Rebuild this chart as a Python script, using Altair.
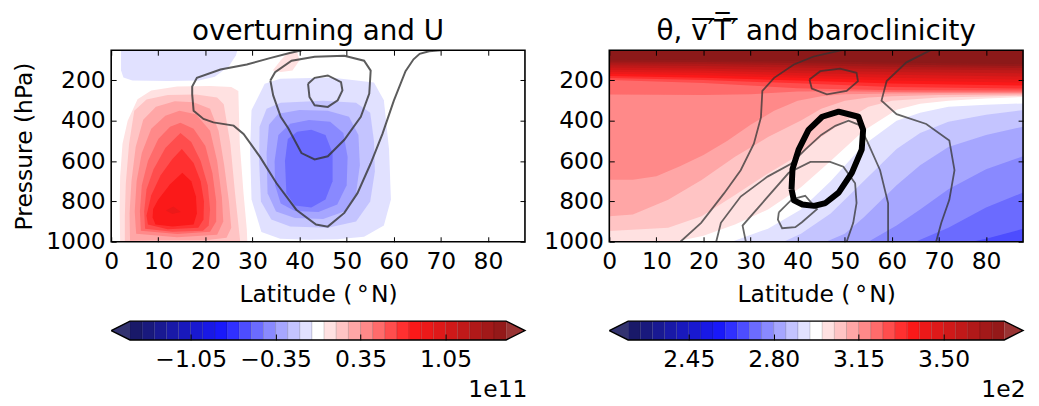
import altair as alt
import pandas as pd

# ---------------------------------------------------------------- data
LAT_MAX = 87.86
P_TOP = 50
P_BOT = 1000
LAT_TICKS = [0, 10, 20, 30, 40, 50, 60, 70, 80]
P_TICKS = [200, 400, 600, 800, 1000]

PSI_LEVELS = [-1.55, -1.45, -1.35, -1.25, -1.15, -1.05, -0.95, -0.85, -0.75, -0.65,
              -0.55, -0.45, -0.35, -0.25, -0.15, -0.05, 0.05, 0.15, 0.25, 0.35,
              0.45, 0.55, 0.65, 0.75, 0.85, 0.95, 1.05, 1.15, 1.25, 1.35, 1.45, 1.55]
PSI_TICKS = [-1.05, -0.35, 0.35, 1.05]
THETA_LEVELS = [220, 225, 230, 235, 240, 245, 250, 255, 260, 265, 270, 275, 280, 285,
                290, 295, 300, 305, 310, 315, 320, 325, 330, 335, 340, 345, 350, 355,
                360, 365, 370, 375]
THETA_TICKS = [245, 280, 315, 350]

# overturning (1e11): outlines of regions where psi > level (positive cell)
PSI_POS = [
    (0.05, [1.9, 1.8, 1.9, 2.4, 3.5, 5.6, 8.5, 14, 21, 25.5, 27.0, 27.3, 28.1, 28.8, 28.9],
           [1000, 840, 677, 514, 400, 293, 250, 230, 228, 232, 252, 514, 759, 939, 1000]),
    (0.15, [2.9, 2.9, 3.1, 3.8, 4.9, 7.5, 12, 18, 22.5, 23.9, 25.3, 26.3, 27.4],
           [1000, 870, 710, 514, 350, 295, 272, 270, 285, 318, 514, 759, 1000]),
    (0.25, [4.0, 3.9, 4.3, 5.2, 6.8, 9.5, 13.5, 17.5, 21, 22.8, 24, 25, 25.5, 24.5, 20, 10],
           [995, 860, 700, 530, 395, 330, 303, 308, 340, 450, 620, 800, 930, 980, 993, 993]),
    (0.35, [5.3, 5.0, 5.4, 6.5, 8.5, 11.5, 14.5, 18, 21, 22.5, 23.5, 23.8, 22.5, 14],
           [960, 850, 700, 560, 440, 375, 350, 368, 450, 600, 780, 900, 965, 978]),
    (0.45, [6.3, 6.1, 6.5, 7.8, 10, 12.5, 14.7, 17.5, 20, 21.5, 22.3, 22.3, 21, 14],
           [945, 850, 720, 600, 490, 430, 410, 440, 525, 660, 800, 900, 950, 962]),
    (0.55, [7.2, 7.0, 7.5, 9, 11.5, 14.7, 17, 19, 20.5, 21, 20.7, 19.5, 13],
           [935, 850, 740, 640, 535, 460, 505, 600, 720, 840, 920, 945, 950]),
    (0.65, [7.8, 7.5, 8.5, 10.5, 13, 15, 17.5, 19, 19.7, 19.6, 18.5, 12],
           [915, 870, 770, 670, 590, 540, 610, 700, 800, 890, 930, 938]),
    (0.75, [8.8, 8.9, 10, 12.5, 15.1, 17, 18, 18.2, 17.5, 13, 9.4],
           [880, 838, 790, 715, 658, 700, 775, 860, 915, 925, 915]),
    (0.85, [11.6, 13.2, 14.8, 13], [845, 825, 852, 862]),
    (0.05, [34.3, 36, 37.5, 39.5, 40, 38.5, 36], [150, 100, 62, 60, 100, 150, 158]),
]
# overturning: outlines of regions where psi < level (negative cell)
PSI_NEG = [
    (-0.05, [32.6, 29.8, 29.5, 29.8, 31.9, 35.9, 42, 48, 53.7, 57.9, 59.4, 59, 57.9, 55.8, 46.6, 35.9],
            [216, 347, 543, 790, 952, 985, 990, 988, 975, 920, 790, 543, 298, 210, 185, 192]),
    (-0.15, [33, 31.5, 31.4, 31.8, 34, 38, 46, 52, 55, 56, 55.8, 55, 52, 45, 36],
            [340, 430, 600, 800, 890, 925, 930, 900, 800, 650, 500, 360, 310, 300, 310]),
    (-0.25, [35.5, 33.5, 33, 33.2, 35, 39, 45, 49.5, 52, 52.8, 52.5, 50.5, 46, 40],
            [365, 420, 560, 760, 850, 882, 887, 850, 760, 620, 470, 380, 350, 347]),
    (-0.35, [38, 35.5, 34.7, 34.8, 36, 39, 44, 48, 50, 50.2, 49.3, 46.5, 42],
            [415, 470, 600, 720, 810, 848, 852, 815, 720, 580, 460, 405, 396]),
    (-0.45, [39.5, 37.5, 36.9, 37.2, 39, 42.5, 45.5, 47, 47, 45.5, 42.5],
            [455, 490, 600, 760, 820, 830, 790, 700, 560, 470, 445]),
    (-0.05, [2.1, 2.1, 2.6, 4.5, 12, 18.6, 22, 25, 26.5, 26.8],
            [50, 150, 185, 200, 203, 200, 182, 130, 75, 50]),
]
# zonal wind U contours (lat, p, closed)
U_CONTOURS = [
    ([40.5, 37.9, 33.7, 28.8, 23.2, 18.2, 17.2, 17.2, 17.5, 19.6, 21.7, 26, 28.1, 31.6, 35.1,
      39.3, 43.5, 46, 49.5, 52.3, 55.1, 57.6, 60, 62.5, 64.2, 65.5, 67.5, 70],
     [50, 64, 89, 121, 146, 187, 230, 269, 350, 391, 408, 424, 465, 579, 710,
      841, 915, 925, 857, 759, 612, 465, 301, 154, 95, 68, 55, 50], False),
    ([33.8, 34.4, 36, 37.6, 40.4, 43.2, 46, 49.5, 53, 54.8, 55.1, 53.7, 49.5, 43.2, 38.3, 34.8],
     [200, 274, 380, 437, 560, 592, 576, 494, 380, 265, 151, 102, 77, 82, 102, 159], True),
    ([41.8, 43.2, 46, 48.8, 49.1, 48.1, 46, 43.2, 42.1],
     [216, 187, 175, 208, 249, 298, 331, 323, 282], True),
]

# potential temperature (K): isentropes (lat, p); region above each is warmer
THETA_ISENTROPES = [
    (270, [77, 80, 87.86], [1000, 985, 936]),
    (275, [65, 72, 80, 87.86], [1000, 930, 830, 756]),
    (280, [55, 61, 66, 72, 80, 87.86], [1000, 920, 840, 740, 640, 576]),
    (285, [46, 50, 54, 61, 66, 72, 80, 87.86], [1000, 960, 880, 720, 620, 530, 470, 429]),
    (290, [37, 40.7, 47, 54, 61, 66, 72, 80, 87.86], [1000, 960, 860, 700, 540, 460, 405, 370, 347]),
    (295, [26, 33.7, 40.7, 47, 54, 61, 66, 72, 80, 87.86], [1000, 935, 840, 700, 520, 400, 360, 330, 320, 314]),
    (300, [14, 20, 26.7, 33.7, 40.7, 47, 54, 61, 66, 72, 80, 87.86],
          [1000, 970, 915, 840, 730, 600, 450, 345, 315, 300, 290, 282]),
    (305, [0, 12.5, 19.6, 26.7, 33.7, 40.7, 45, 50, 55, 60, 70, 80, 87.86],
          [947, 930, 874, 768, 661, 563, 480, 400, 330, 300, 285, 279, 276]),
    (310, [0, 5, 12.5, 19.6, 26.7, 33.7, 40.7, 45, 50, 55, 60, 70, 87.86],
          [874, 865, 792, 694, 579, 481, 399, 340, 300, 285, 278, 272, 270]),
    (315, [0, 5, 10, 15, 20, 25, 30, 35, 40, 45, 50, 60, 70, 87.86],
          [693, 693, 675, 625, 570, 500, 420, 350, 300, 278, 268, 265, 264, 264]),
    (320, [0, 20, 30, 40, 50, 60, 70, 87.86], [269, 272, 268, 255, 253, 257, 258, 258]),
    (325, [0, 20, 40, 60, 87.86], [198, 212, 238, 248, 250]),
    (330, [0, 20, 40, 60, 87.86], [188, 198, 214, 232, 240]),
    (335, [0, 20, 40, 60, 87.86], [178, 186, 200, 215, 225]),
    (340, [0, 20, 40, 60, 87.86], [167, 174, 187, 200, 210]),
    (345, [0, 20, 40, 60, 87.86], [157, 162, 175, 186, 195]),
    (350, [0, 20, 40, 60, 87.86], [147, 151, 163, 172, 180]),
    (355, [0, 20, 40, 60, 87.86], [136, 140, 150, 158, 165]),
    (360, [0, 20, 40, 60, 87.86], [125, 128, 136, 144, 150]),
    (365, [0, 20, 40, 60, 87.86], [115, 117, 124, 132, 138]),
    (370, [0, 20, 40, 60, 87.86], [106, 108, 113, 121, 128]),
    (375, [0, 20, 40, 60, 87.86], [97, 99, 103, 111, 118]),
]
THETA_SURFACE_BAND = 267.5
# eddy heat flux v'T' contours (lat, p, closed)
VT_CONTOURS = [
    ([15.1, 19.5, 24.4, 27.9, 30.7, 32.2, 32.5, 35, 39.2, 43.4, 47, 49.4],
     [1000, 906, 759, 645, 514, 383, 252, 187, 121, 81, 62, 50], False),
    ([22.7, 23.7, 27.9, 33.6, 38.5, 41.6, 45, 48, 50.8, 53, 54.7, 57.5, 59.2, 59.2],
     [1000, 906, 776, 677, 615, 543, 470, 425, 400, 420, 498, 645, 808, 1000], False),
    ([29, 28.3, 33.2, 38.1, 42.7, 46.9, 49.7, 52.2, 52.5, 51.8, 50.4],
     [1000, 920, 789, 658, 604, 604, 628, 710, 808, 906, 1000], False),
    ([36, 38.8, 41.6, 44.1, 40.9, 39.5, 36.7, 35.8],
     [854, 789, 772, 838, 903, 928, 933, 890], True),
    ([68.2, 63.1, 58.9, 57.8, 61, 67.3, 72.2, 73.3, 72.2, 70.5, 69.4],
     [50, 110, 203, 300, 367, 416, 498, 645, 792, 906, 1000], False),
    ([42.5, 44.8, 49, 52.5, 52.8, 50.4, 46.2, 43],
     [195, 154, 141, 162, 203, 252, 269, 240], True),
]
# baroclinicity contour (thick black)
BAROCLINIC_CONTOUR = ([38.7, 38.9, 40.2, 42.3, 45.2, 48.7, 52.9, 53.9, 53.6, 51.5, 48.7, 45.9, 43.5, 41, 39.2],
                      [740, 640, 543, 445, 380, 355, 380, 445, 543, 658, 756, 808, 822, 815, 795])

# ---------------------------------------------------------------- style
FONT = "DejaVu Sans"
FS_TICK = 23.6
FS_TITLE = 28
PW, PH = 417, 193


def seismic(t):
    stops = [(0.0, (0.0, 0.0, 0.3)), (0.25, (0.0, 0.0, 1.0)), (0.5, (1.0, 1.0, 1.0)),
             (0.75, (1.0, 0.0, 0.0)), (1.0, (0.5, 0.0, 0.0))]
    t = min(max(t, 0.0), 1.0)
    for (t0, c0), (t1, c1) in zip(stops[:-1], stops[1:]):
        if t <= t1:
            f = (t - t0) / (t1 - t0)
            return tuple(a + (b - a) * f for a, b in zip(c0, c1))
    return stops[-1][1]


def tint(rgb, alpha):
    return "#%02x%02x%02x" % tuple(int(round(255 * (alpha * c + 1 - alpha))) for c in rgb)


NB = 31
BANDS = [tint(seismic((k + 0.5) / NB), 0.9) for k in range(NB)]
UNDER = tint(seismic(0.0), 0.9)
OVER = tint(seismic(1.0), 0.9)
TRI_UNDER = tint(seismic(0.0), 0.8)
TRI_OVER = tint(seismic(1.0), 0.8)

XS = alt.Scale(domain=[0, LAT_MAX], nice=False, zero=False)
YS = alt.Scale(domain=[P_TOP, P_BOT], reverse=True, nice=False, zero=False)


def cscale(levels):
    return alt.Scale(type="threshold", domain=levels, range=[UNDER] + BANDS + [OVER])


def fill_layer(lats, ps, value, scale):
    df = pd.DataFrame({"lat": lats, "p": ps, "i": list(range(len(lats)))})
    df["v"] = value
    return alt.Chart(df).mark_line(filled=True, interpolate="linear-closed", clip=True).encode(
        x=alt.X("lat:Q", scale=XS, axis=None),
        y=alt.Y("p:Q", scale=YS, axis=None),
        order=alt.Order("i:Q"),
        color=alt.Color("v:Q", scale=scale, legend=None),
    )


def lines_df(contours):
    rows = []
    for cid, (lats, ps, closed) in enumerate(contours):
        la, pa = list(lats), list(ps)
        if closed:
            la.append(la[0])
            pa.append(pa[0])
        for i, (a, b) in enumerate(zip(la, pa)):
            rows.append({"lat": a, "p": b, "cid": cid, "i": i})
    return pd.DataFrame(rows)


def tick_axis(orient, values, labels=True, title=None, **kw):
    base = dict(orient=orient, values=values, offset=-5, tickSize=5, tickWidth=1,
                tickColor="black", domain=False, grid=False, labels=labels,
                labelFont=FONT, labelFontSize=FS_TICK, labelColor="black",
                labelFlush=False, labelOverlap=False, zindex=1,
                titleFont=FONT, titleFontSize=FS_TICK, titleFontWeight="normal",
                titleColor="black")
    base.update(kw)
    base["title"] = title
    return alt.Axis(**base)


def line_layers(contours, color, width, opacity, ytitle):
    df = lines_df(contours)
    lines = alt.Chart(df).mark_line(color=color, strokeWidth=width, opacity=opacity, clip=True).encode(
        x=alt.X("lat:Q", scale=XS,
                axis=tick_axis("bottom", LAT_TICKS, title="Latitude (\u2009°\u200aN)",
                               labelBaseline="alphabetic", labelPadding=27,
                               titleBaseline="alphabetic", titleY=65, format="d")),
        y=alt.Y("p:Q", scale=YS,
                axis=tick_axis("left", P_TICKS, title=ytitle, labelPadding=6,
                               labelBaseline="middle", format="d",
                               titleBaseline="alphabetic", titleX=-85, titleY=PH / 2,
                               titleAngle=270)),
        detail="cid:N",
        order=alt.Order("i:Q"),
    )
    carrier = alt.Chart(df).mark_point(opacity=0, size=1).encode(
        x=alt.X("lat:Q", scale=XS, axis=tick_axis("top", LAT_TICKS, labels=False)),
        y=alt.Y("p:Q", scale=YS, axis=tick_axis("right", P_TICKS, labels=False)),
    )
    return [lines, carrier]


def frame():
    return alt.Chart(pd.DataFrame({"a": [0]})).mark_rect(
        filled=False, stroke="black", strokeWidth=1.6).encode(
        x=alt.value(0), x2=alt.value("width"), y=alt.value(0), y2=alt.value("height"))


def title(text):
    return alt.TitleParams(text=text, font=FONT, fontSize=FS_TITLE, fontWeight="normal",
                           color="black", anchor="middle", frame="group",
                           baseline="alphabetic", offset=9, dy=27)


# ---------------------------------------------------------------- left panel
psi_scale = cscale(PSI_LEVELS)
left_layers = []
for lev, lats, ps in PSI_POS:
    left_layers.append(fill_layer(lats, ps, lev + 0.05, psi_scale))
for lev, lats, ps in PSI_NEG:
    left_layers.append(fill_layer(lats, ps, lev - 0.05, psi_scale))
left_layers += line_layers(U_CONTOURS, "#333333", 2.0, 0.8, "Pressure (hPa)")
left_layers.append(frame())
left = alt.layer(*left_layers).properties(
    width=PW, height=PH, title=title("overturning and U")
).resolve_axis(x="independent", y="independent")

# ---------------------------------------------------------------- right panel
th_scale = cscale(THETA_LEVELS)
right_layers = [fill_layer([0, LAT_MAX, LAT_MAX, 0], [P_BOT, P_BOT, P_TOP, P_TOP],
                           THETA_SURFACE_BAND, th_scale)]
for lev, lats, ps in THETA_ISENTROPES:
    la, pa = list(lats), list(ps)
    if la[0] > 0:
        la = [0] + la
        pa = [P_BOT] + pa
    la += [LAT_MAX, 0]
    pa += [P_TOP, P_TOP]
    right_layers.append(fill_layer(la, pa, lev + 2.5, th_scale))
right_layers += line_layers(VT_CONTOURS, "#333333", 1.8, 0.75, None)
ring = lines_df([(BAROCLINIC_CONTOUR[0], BAROCLINIC_CONTOUR[1], True)])
right_layers.append(alt.Chart(ring).mark_line(color="black", strokeWidth=6, clip=True,
                                              strokeJoin="round").encode(
    x=alt.X("lat:Q", scale=XS, axis=None), y=alt.Y("p:Q", scale=YS, axis=None),
    order=alt.Order("i:Q")))
right_layers.append(frame())
right = alt.layer(*right_layers).properties(
    width=PW, height=PH,
    title=title("θ, v\u0305\u2032\u0305T\u0305\u2032\u0305 and baroclinicity")
).resolve_axis(x="independent", y="independent")


# ---------------------------------------------------------------- colorbars
def colorbar(levels, ticks, label_expr, exponent):
    span = levels[-1] - levels[0]
    lo_ext, hi_ext = levels[0] - 0.05 * span, levels[-1] + 0.05 * span
    cxs = alt.Scale(domain=[lo_ext, hi_ext], nice=False, zero=False)
    cys = alt.Scale(domain=[0, 1], nice=False, zero=False)
    cells = pd.DataFrame({"lo": levels[:-1], "hi": levels[1:], "c": BANDS,
                          "y0": 0, "y1": 1})
    rect = alt.Chart(cells).mark_rect(stroke="black", strokeOpacity=0.12, strokeWidth=1).encode(
        x=alt.X("lo:Q", scale=cxs, axis=None), x2="hi:Q",
        y=alt.Y("y0:Q", scale=cys, axis=None), y2="y1:Q",
        color=alt.Color("c:N", scale=None))

    def tri(xs, ys, col):
        d = pd.DataFrame({"x": xs, "y": ys, "i": list(range(len(xs)))})
        return alt.Chart(d).mark_line(filled=True, interpolate="linear-closed", color=col).encode(
            x=alt.X("x:Q", scale=cxs, axis=None), y=alt.Y("y:Q", scale=cys, axis=None),
            order=alt.Order("i:Q"))

    t_lo = tri([lo_ext, levels[0], levels[0]], [0.5, 1, 0], TRI_UNDER)
    t_hi = tri([levels[-1], levels[-1], hi_ext], [0, 1, 0.5], TRI_OVER)
    ox = [lo_ext, levels[0], levels[-1], hi_ext, levels[-1], levels[0], lo_ext]
    oy = [0.5, 1, 1, 0.5, 0, 0, 0.5]
    od = pd.DataFrame({"x": ox, "y": oy, "i": list(range(len(ox)))})
    outline = alt.Chart(od).mark_line(color="black", strokeWidth=1.4).encode(
        x=alt.X("x:Q", scale=cxs,
                axis=alt.Axis(orient="bottom", values=ticks, offset=-6, tickSize=6,
                              tickWidth=1, tickColor="black", domain=False, grid=False,
                              labelExpr=label_expr, labelFont=FONT, labelFontSize=FS_TICK,
                              labelColor="black", labelBaseline="alphabetic",
                              labelPadding=27, labelFlush=False, labelOverlap=False,
                              title=exponent, titleFont=FONT, titleFontSize=FS_TICK,
                              titleFontWeight="normal", titleColor="black",
                              titleBaseline="alphabetic", titleAlign="right",
                              titleX=PW + 2, titleY=63, zindex=1)),
        y=alt.Y("y:Q", scale=cys, axis=None),
        order=alt.Order("i:Q"))
    return alt.layer(rect, t_lo, t_hi, outline).properties(
        width=PW, height=19).resolve_axis(x="independent", y="independent")


cb_left = colorbar(PSI_LEVELS, PSI_TICKS, "format(datum.value, '.2f')", "1e11")
cb_right = colorbar(THETA_LEVELS, THETA_TICKS, "format(datum.value / 100, '.2f')", "1e2")

chart = alt.concat(
    left, right, cb_left, cb_right, columns=2,
    spacing={"row": 80, "column": 85}, bounds="flush"
).resolve_scale(color="independent").properties(
    background="white", padding={"left": 5, "top": 8, "right": 5, "bottom": 5}
).configure_view(stroke=None)

chart.save("out.html", embed_options={"renderer": "svg", "actions": False})
